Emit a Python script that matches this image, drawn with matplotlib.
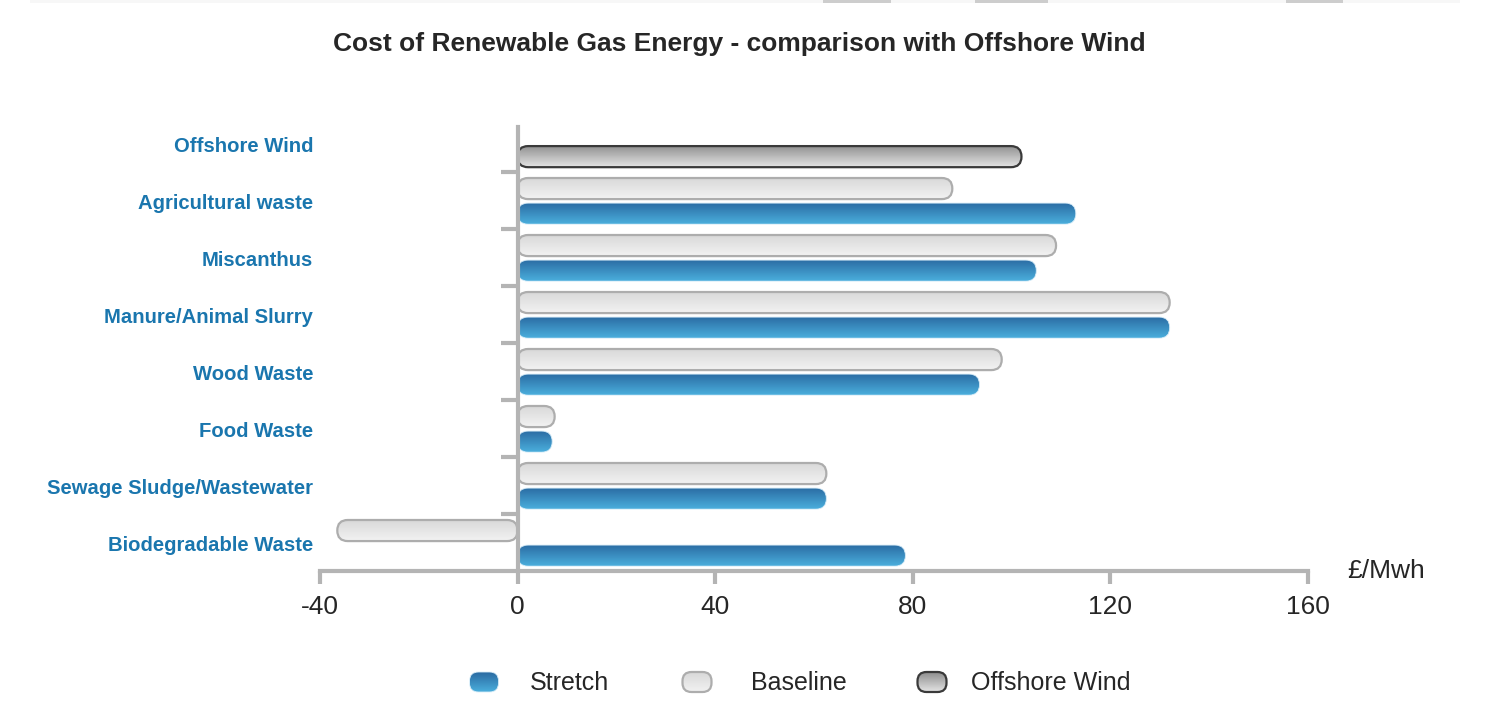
#!/usr/bin/env python3

import numpy as np
import matplotlib
matplotlib.use('Agg')
from matplotlib import pyplot as plt
from matplotlib.patches import FancyBboxPatch
from matplotlib.colors import LinearSegmentedColormap
import matplotlib.transforms as mtransforms

### data
categories = ['Offshore Wind', 'Agricultural waste', 'Miscanthus', 'Manure/Animal Slurry',
              'Wood Waste', 'Food Waste', 'Sewage Sludge/Wastewater', 'Biodegradable Waste']
offshore_wind = [102, None, None, None, None, None, None, None]
baseline = [None, 88, 109, 132, 98, 7.5, 62.5, -36.5]
stretch = [None, 113, 105, 132, 93.5, 7, 62.5, 78.5]
xticks = [-40, 0, 40, 80, 120, 160]
series_names = ['Stretch', 'Baseline', 'Offshore Wind']

### styles
LABEL_BLUE = '#1a76ae'
AXIS_GREY = '#b4b4b4'
TEXT_DARK = '#262626'
STYLES = {
    'Stretch': dict(top='#2a6aa2', bottom='#4aaedc', edge='#d6ecf8', lw=0.6),
    'Baseline': dict(top='#d8d8d8', bottom='#f2f2f2', edge='#adadad', lw=1.6),
    'Offshore Wind': dict(top='#8e8e8e', bottom='#e4e4e4', edge='#3a3a3a', lw=1.6),
}
BAR_H = 0.37
OFFSET = {'Baseline': -0.21, 'Stretch': 0.23, 'Offshore Wind': 0.23}
RADIUS_PX = 10.5

W, H = 1490, 720


def gradient_bar(ax, x0, x1, yc, style, aspect):
    """ Draw one rounded bar with a vertical gradient between x0 and x1 """
    left, width = min(x0, x1), abs(x1 - x0)
    y0 = yc - BAR_H / 2
    pix_x = RADIUS_PX / (ax.transData.transform((1, 0))[0] - ax.transData.transform((0, 0))[0])
    r = min(pix_x, width / 2)
    patch = FancyBboxPatch((left, y0), width, BAR_H,
                           boxstyle=f'round,pad=0,rounding_size={r}',
                           mutation_aspect=aspect, facecolor='none',
                           edgecolor=style['edge'], linewidth=style['lw'], zorder=3)
    ax.add_patch(patch)
    cmap = LinearSegmentedColormap.from_list('g', [style['top'], style['bottom']])
    grad = np.linspace(0, 1, 64).reshape(-1, 1)
    im = ax.imshow(grad, cmap=cmap, aspect='auto', origin='upper',
                   extent=(left, left + width, y0 + BAR_H, y0), zorder=2,
                   interpolation='bilinear')
    im.set_clip_path(patch)


def legend_marker(fax, xc, yc, style):
    """ Rounded legend swatch in pixel coordinates """
    w, h = 29, 20
    patch = FancyBboxPatch((xc - w / 2, yc - h / 2), w, h,
                           boxstyle='round,pad=0,rounding_size=9',
                           facecolor='none', edgecolor=style['edge'],
                           linewidth=style['lw'], zorder=3)
    fax.add_patch(patch)
    cmap = LinearSegmentedColormap.from_list('g', [style['top'], style['bottom']])
    grad = np.linspace(0, 1, 64).reshape(-1, 1)
    im = fax.imshow(grad, cmap=cmap, aspect='auto', origin='upper',
                    extent=(xc - w / 2, xc + w / 2, yc + h / 2, yc - h / 2), zorder=2,
                    interpolation='bilinear')
    im.set_clip_path(patch)


def main():
    plt.rcParams['font.family'] = ['Liberation Sans', 'DejaVu Sans']

    fig = plt.figure(figsize=(W / 100, H / 100), dpi=100)
    fig.patch.set_facecolor('white')

    # plot area: x from -40 (320px) to 160 (1308px), y from 127px to 571px
    ax = fig.add_axes([320 / W, (H - 571) / H, 988 / W, 444 / H])
    n = len(categories)
    ylo, yhi = n - 0.5, -0.29
    ax.set_xlim(xticks[0], xticks[-1])
    ax.set_ylim(ylo, yhi)

    # aspect between x and y data units in pixels
    px_per_x = ax.transData.transform((1, 0))[0] - ax.transData.transform((0, 0))[0]
    px_per_y = abs(ax.transData.transform((0, 1))[1] - ax.transData.transform((0, 0))[1])
    aspect = px_per_x / px_per_y

    for i in range(n):
        for name, vals in (('Baseline', baseline), ('Stretch', stretch),
                           ('Offshore Wind', offshore_wind)):
            v = vals[i]
            if v is None:
                continue
            gradient_bar(ax, 0, v, i + OFFSET[name], STYLES[name], aspect)

    ax.set_xlim(xticks[0], xticks[-1])
    ax.set_ylim(ylo, yhi)

    # axes styling
    for side in ('top', 'right'):
        ax.spines[side].set_visible(False)
    ax.spines['left'].set_position(('data', 0))
    for side in ('left', 'bottom'):
        ax.spines[side].set_color(AXIS_GREY)
        ax.spines[side].set_linewidth(3)
        ax.spines[side].set_zorder(5)
    ax.set_xticks(xticks)
    ax.set_xticklabels([str(t) for t in xticks])
    ax.tick_params(axis='x', direction='out', length=9, width=3, color=AXIS_GREY,
                   labelsize=19, labelcolor=TEXT_DARK, pad=8)
    ax.set_yticks(np.arange(0.5, n - 1, 1.0))
    ax.set_yticklabels([])
    ax.tick_params(axis='y', direction='out', length=12, width=3, color=AXIS_GREY)
    ax.patch.set_alpha(0)

    # category labels, right aligned left of the plot
    trans = mtransforms.blended_transform_factory(ax.transAxes, ax.transData)
    for i, cat in enumerate(categories):
        ax.text(-0.007, i + 0.06, cat, transform=trans, ha='right', va='center',
                fontsize=14.6, fontweight='bold', color=LABEL_BLUE)

    ax.text(1.0395, 0.0, '£/Mwh', transform=ax.transAxes, ha='left', va='center',
            fontsize=19, color=TEXT_DARK)

    fig.text(739 / W, 1 - 44 / H, 'Cost of Renewable Gas Energy - comparison with Offshore Wind',
             ha='center', va='center', fontsize=19, fontweight='bold', color=TEXT_DARK)

    # overlay in pixel coordinates for the legend and the page edge
    fax = fig.add_axes([0, 0, 1, 1], zorder=-1)
    fax.set_xlim(0, W)
    fax.set_ylim(H, 0)
    fax.axis('off')
    fax.add_patch(plt.Rectangle((30, 0), 1430, 3, color='#f7f7f7', lw=0))
    for x0, x1 in ((823, 891), (975, 1048), (1286, 1343)):
        fax.add_patch(plt.Rectangle((x0, 0), x1 - x0, 2.5, color='#cdcdcd', lw=0))

    lax = fig.add_axes([0, 0, 1, 1])
    lax.set_xlim(0, W)
    lax.set_ylim(H, 0)
    lax.axis('off')
    for name, mx, tx in zip(series_names, (484, 697, 932), (530, 751, 971)):
        legend_marker(lax, mx, 682, STYLES[name])
        lax.text(tx, 683, name, ha='left', va='center', fontsize=18, color=TEXT_DARK)
    lax.set_xlim(0, W)
    lax.set_ylim(H, 0)

    fig.savefig('out.png', dpi=100)
    return 0


if __name__ == '__main__':
    main()
